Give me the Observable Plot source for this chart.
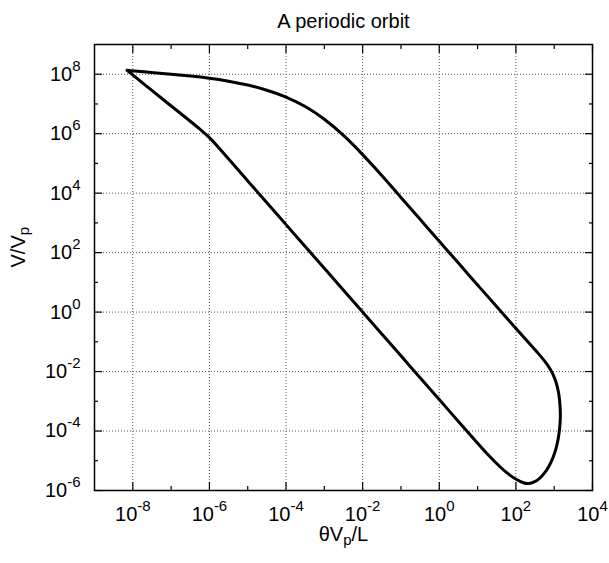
<!DOCTYPE html>
<html><head><meta charset="utf-8">
<script src="https://cdn.jsdelivr.net/npm/d3@7"></script>
<script src="https://cdn.jsdelivr.net/npm/@observablehq/plot@0.6"></script>
<style>body{margin:0;background:#fff} svg{display:block}</style>
</head><body><div id="chart"></div>
<script>
const titleText = "A periodic orbit";
const xLabelText = "θV_{p}/L";
const yLabelText = "V/V_{p}";

// orbit, as decade exponents (log10 θVp/L, log10 V/Vp)
const thetaExp = [-8.15, -7.5, -7.0, -6.5, -6.0, -5.5, -5.0, -4.5, -4.0, -3.5, -3.0, -2.5, -2.0, -1.5, -1.0, -0.5, 0.0, 0.5, 1.0, 1.5, 2.05, 2.35, 2.6, 2.78, 2.91, 3.01, 3.08, 3.13, 3.155, 3.165, 3.15, 3.11, 3.05, 2.97, 2.87, 2.75, 2.62, 2.48, 2.33, 2.2, 2.05, 1.85, 1.6, 1.3, 1.0, 0.5, 0.0, -0.5, -1.0, -1.5, -2.0, -2.5, -3.0, -3.5, -4.0, -4.5, -5.0, -5.5, -5.75, -6.0, -6.25, -6.5, -6.8, -7.2, -7.7, -8.15];
const velExp   = [8.13, 8.06, 8.0, 7.94, 7.87, 7.77, 7.645, 7.47, 7.25, 6.93, 6.51, 5.96, 5.305, 4.6, 3.855, 3.12, 2.38, 1.65, 0.91, 0.18, -0.62, -1.05, -1.41, -1.69, -1.94, -2.2, -2.48, -2.8, -3.15, -3.5, -3.85, -4.25, -4.6, -4.9, -5.18, -5.42, -5.6, -5.72, -5.78, -5.75, -5.66, -5.5, -5.23, -4.84, -4.41, -3.68, -2.94, -2.21, -1.47, -0.74, 0.0, 0.74, 1.47, 2.21, 2.94, 3.68, 4.41, 5.15, 5.52, 5.88, 6.16, 6.42, 6.73, 7.14, 7.66, 8.13];

const xMajorExp = [-8, -6, -4, -2, 0, 2, 4];
const xMinorExp = [-7, -5, -3, -1, 1, 3];
const xGridExp  = [-8, -6, -4, -2, 0, 2];
const yMajorExp = [-6, -4, -2, 0, 2, 4, 6, 8];
const yMinorExp = [-5, -3, -1, 1, 3, 5, 7];
const yGridExp  = [-4, -2, 0, 2, 4, 6, 8];
const xDomainExp = [-9, 4];
const yDomainExp = [-6, 9];

const pow = e => Math.pow(10, e);
const orbit = thetaExp.map((e, i) => ({theta: pow(e), v: pow(velExp[i])}));
const fmt = d => `10^{${Math.round(Math.log10(d))}}`;
const font = "'Liberation Sans', Arial, Helvetica, sans-serif";
const gridStyle = {stroke: "#555", strokeOpacity: 1, strokeDasharray: "1,2", strokeWidth: 1};
const tickAxis = (fn, vals, anchor, size) => fn(vals.map(pow), {anchor, tickSize: size, fill: "none", label: null, strokeWidth: 1.2});

const plot = Plot.plot({
  width: 609, height: 563,
  marginLeft: 94, marginRight: 17, marginTop: 44, marginBottom: 73,
  style: {fontFamily: font, fontSize: "20px", background: "#fff", color: "#000"},
  x: {type: "log", domain: xDomainExp.map(pow)},
  y: {type: "log", domain: yDomainExp.map(pow)},
  marks: [
    Plot.gridX(xGridExp.map(pow), gridStyle),
    Plot.gridY(yGridExp.map(pow), gridStyle),
    Plot.axisX(xMajorExp.map(pow), {anchor: "bottom", tickSize: 0, tickPadding: 16, tickFormat: fmt, label: null, fontSize: 20}),
    Plot.axisY(yMajorExp.map(pow), {anchor: "left", tickSize: 0, tickPadding: 14, tickFormat: fmt, label: null, fontSize: 20}),
    tickAxis(Plot.axisX, xMajorExp, "bottom", -8),
    tickAxis(Plot.axisX, xMajorExp, "top", -8),
    tickAxis(Plot.axisX, xMinorExp, "bottom", -4),
    tickAxis(Plot.axisX, xMinorExp, "top", -4),
    tickAxis(Plot.axisY, yMajorExp, "left", -8),
    tickAxis(Plot.axisY, yMajorExp, "right", -8),
    tickAxis(Plot.axisY, yMinorExp, "left", -4),
    tickAxis(Plot.axisY, yMinorExp, "right", -4),
    Plot.line(orbit, {x: "theta", y: "v", stroke: "#000", strokeWidth: 3, curve: "basis", strokeLinejoin: "round", strokeLinecap: "round"}),
    Plot.frame({stroke: "#000", strokeWidth: 1.5}),
    Plot.text([titleText], {text: d => d, frameAnchor: "top", dy: -31, fontSize: 20}),
    Plot.text([xLabelText], {text: d => d, frameAnchor: "bottom", dy: 50, fontSize: 20}),
    Plot.text([yLabelText], {text: d => d, frameAnchor: "left", dx: -76, rotate: -90, fontSize: 20})
  ]
});

const NS = "http://www.w3.org/2000/svg";
function richify(t) {
  const s = t.textContent;
  if (!/[\^_]\{/.test(s)) return;
  while (t.firstChild) t.removeChild(t.firstChild);
  const re = /([\^_])\{([^}]*)\}|([^\^_]+)/g;
  let m, shift = 0;
  while ((m = re.exec(s))) {
    if (m[3] !== undefined) {
      if (shift === 0) { t.appendChild(document.createTextNode(m[3])); }
      else {
        const sp = document.createElementNS(NS, "tspan");
        sp.textContent = m[3];
        sp.setAttribute("dy", -shift);
        t.appendChild(sp);
        shift = 0;
      }
    } else {
      const d = m[1] === "^" ? -10 : 4;
      const sp = document.createElementNS(NS, "tspan");
      sp.textContent = m[2];
      sp.setAttribute("font-size", 15);
      sp.setAttribute("dy", d - shift);
      t.appendChild(sp);
      shift = d;
    }
  }
}
plot.querySelectorAll("text").forEach(richify);
document.getElementById("chart").appendChild(plot);
</script>
</body></html>
